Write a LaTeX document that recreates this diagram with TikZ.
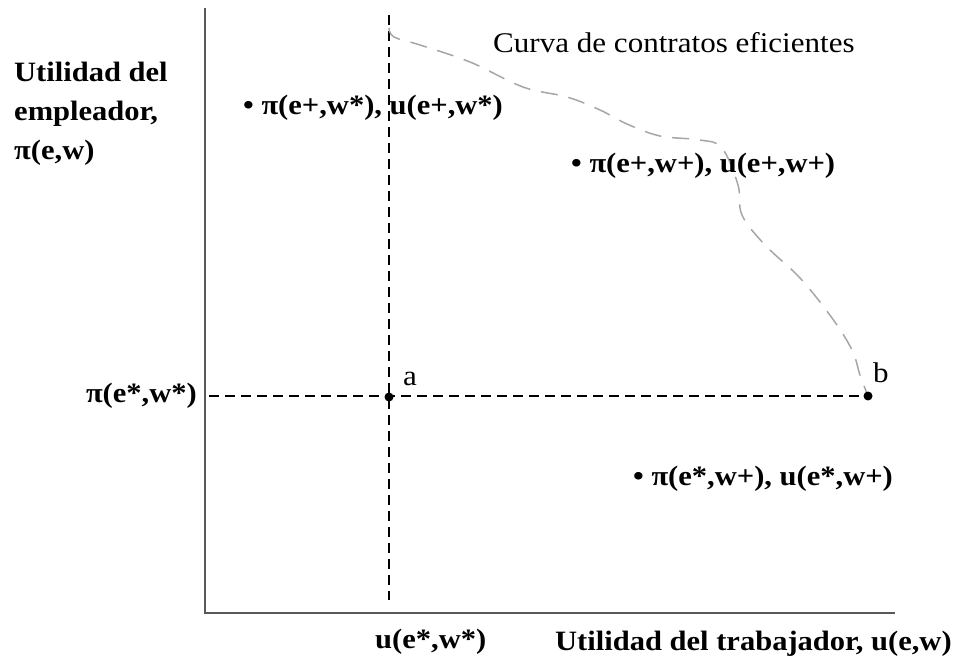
\documentclass[tikz,border=0pt]{standalone}
\usepackage{fontspec}
\setmainfont{Liberation Serif}[FakeStretch=1.09]
\tikzset{
  axis/.style={draw=black!65, line width=2pt},
  dline/.style={draw=black, line width=2.8pt, dash pattern=on 10pt off 6pt},
  effcurve/.style={draw=black!35, line width=1.5pt, dash pattern=on 17pt off 11pt},
  dot/.style={circle, fill=black, inner sep=0pt, minimum size=9pt},
  blabel/.style={font=\fontsize{28}{39}\selectfont\bfseries, inner sep=0pt},
  rlabel/.style={font=\fontsize{28.5}{38}\selectfont, inner sep=0pt},
}
\begin{document}
\begin{tikzpicture}[x=1pt,y=-1pt]
\useasboundingbox (0,0) rectangle (963,660);
% axes
\coordinate (ytop) at (205,8);
\coordinate (origin) at (205,613);
\coordinate (xend) at (895,613);
\draw[axis] (ytop) -- (origin) -- (xend);
% dashed guides
\coordinate (apt) at (389,397);
\coordinate (bpt) at (868,396);
\coordinate (vtop) at (389,15);
\coordinate (vbot) at (389,600);
\coordinate (hleft) at (209,396);
\draw[dline] (vtop) -- (vbot);
\draw[dline] (hleft) -- (bpt);
% efficient contract curve
\draw[effcurve] plot[smooth, tension=0.6] coordinates {(389,28) (394,37) (420,45) (470,62) (523,87) (567,97) (600,110) (627,124) (660,136) (700,140) (722,148) (738,185) (742,215) (765,245) (800,278) (832,318) (852,350) (860,375) (868,396)};
% points
\node[dot] (a) at (apt) {};
\node[dot] (b) at (bpt) {};
% labels
\node[rlabel, anchor=base west] (curva) at (493,53) {Curva de contratos eficientes};
\node[blabel, anchor=base west, align=left] (ylab) at (14,160) {Utilidad del\\empleador,\\π(e,w)};
\node[blabel, anchor=base west] (p1) at (243,115) {• π(e+,w*), u(e+,w*)};
\node[blabel, anchor=base west] (p2) at (571,173) {• π(e+,w+), u(e+,w+)};
\node[blabel, anchor=base east] (piy) at (197,402) {π(e*,w*)};
\node[rlabel, anchor=base west] (la) at (403,385) {a};
\node[rlabel, anchor=base west] (lb) at (873,382) {b};
\node[blabel, anchor=base west] (p3) at (633,485) {• π(e*,w+), u(e*,w+)};
\node[blabel, anchor=base west] (ux) at (375,648) {u(e*,w*)};
\node[blabel, anchor=base west] (xlab) at (555,650) {Utilidad del trabajador, u(e,w)};
\end{tikzpicture}
\end{document}
